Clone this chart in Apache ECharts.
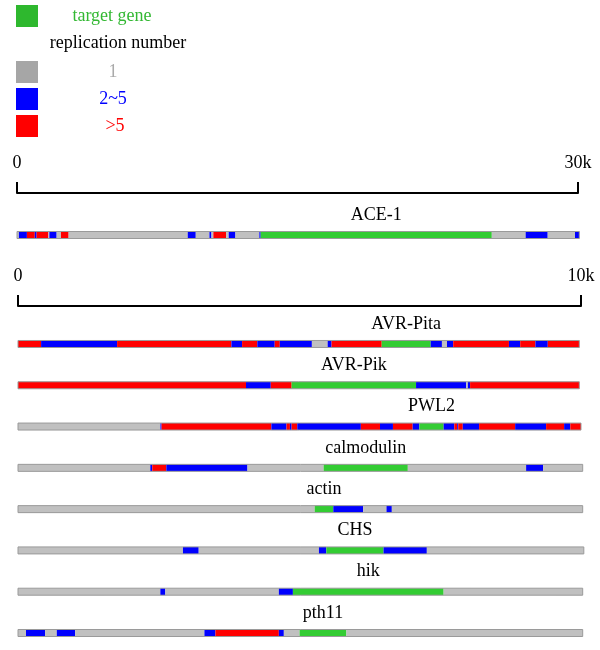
<!DOCTYPE html>
<html>
<head>
<meta charset="utf-8">
<script src="https://cdn.jsdelivr.net/npm/echarts@6/dist/echarts.min.js"></script>
<style>
html, body { margin: 0; padding: 0; background: #fff; }
#main { width: 600px; height: 650px; }
</style>
</head>
<body>
<div id="main"></div>
<script>
// segment colours: g = 1 copy, b = 2~5, r = >5, t = target gene
var colors = { g: '#c0c0c0', b: '#0000ff', r: '#ff0000', t: '#33cc33' };

var longMax = 30000;
var shortMax = 10000;
var longTicks = ['0', '30k'];
var shortTicks = ['0', '10k'];

var longNames = ['ACE-1'];
var ace1 = [[0,100,'g'],[100,530,'b'],[530,950,'r'],[950,1050,'b'],[1050,1680,'r'],[1680,1730,'g'],
  [1730,2120,'b'],[2120,2350,'g'],[2350,2760,'r'],[2760,9130,'g'],[9130,9560,'b'],[9560,10290,'g'],
  [10290,10400,'b'],[10400,10500,'g'],[10500,11180,'r'],[11180,11320,'g'],[11320,11680,'b'],
  [11680,12960,'g'],[12960,13030,'b'],[13030,25390,'t'],[25390,27200,'g'],[27200,28380,'b'],
  [28380,29840,'g'],[29840,30070,'b']];

var shortNames = ['AVR-Pita', 'AVR-Pik', 'PWL2', 'calmodulin', 'actin', 'CHS', 'hik', 'pth11'];
var avrPita = [[0,410,'r'],[410,1760,'b'],[1760,3790,'r'],[3790,3980,'b'],[3980,4250,'r'],[4250,4560,'b'],
  [4560,4650,'r'],[4650,5220,'b'],[5220,5500,'g'],[5500,5570,'b'],[5570,6460,'r'],[6460,7330,'t'],
  [7330,7530,'b'],[7530,7620,'g'],[7620,7730,'b'],[7730,8720,'r'],[8720,8920,'b'],[8920,9190,'r'],
  [9190,9410,'b'],[9410,9970,'r']];
var avrPik = [[0,4050,'r'],[4050,4490,'b'],[4490,4860,'r'],[4860,7070,'t'],[7070,7960,'b'],
  [7960,7990,'g'],[7990,8030,'b'],[8030,9970,'r']];
var pwl2 = [[0,2530,'g'],[2530,2550,'b'],[2550,4500,'r'],[4500,4770,'b'],[4770,4830,'r'],[4830,4860,'b'],
  [4860,4960,'r'],[4960,6090,'b'],[6090,6430,'r'],[6430,6660,'b'],[6660,7010,'r'],[7010,7130,'b'],
  [7130,7560,'t'],[7560,7750,'b'],[7750,7800,'r'],[7800,7820,'b'],[7820,7900,'r'],[7900,8190,'b'],
  [8190,8830,'r'],[8830,9380,'b'],[9380,9700,'r'],[9700,9810,'b'],[9810,10000,'r']];
var calmodulin = [[0,2350,'g'],[2350,2385,'b'],[2385,2634,'r'],[2634,4076,'b'],[4076,5429,'g'],
  [5429,6924,'t'],[6924,9025,'g'],[9025,9327,'b'],[9327,10030,'g']];
var actin = [[0,5270,'g'],[5270,5600,'t'],[5600,6130,'b'],[6130,6545,'g'],[6545,6640,'b'],[6640,10030,'g']];
var chs = [[0,2930,'g'],[2930,3210,'b'],[3210,5345,'g'],[5345,5477,'b'],[5477,6492,'t'],[6492,7262,'b'],
  [7262,10050,'g']];
var hik = [[0,2528,'g'],[2528,2617,'b'],[2617,4633,'g'],[4633,4883,'b'],[4883,7560,'t'],[7560,10030,'g']];
var pth11 = [[0,142,'g'],[142,481,'b'],[481,689,'g'],[689,1015,'b'],[1015,3311,'g'],[3311,3507,'b'],
  [3507,4633,'r'],[4633,4722,'b'],[4722,5002,'g'],[5002,5833,'t'],[5833,10030,'g']];
var shortTracks = [avrPita, avrPik, pwl2, calmodulin, actin, chs, hik, pth11];
var longTracks = [ace1];

var serif = 'Liberation Serif';

function segData(tracks) {
  var out = [];
  tracks.forEach(function (segs, i) {
    segs.forEach(function (s) {
      out.push({ value: [s[0], s[1], i], itemStyle: { color: colors[s[2]] } });
    });
  });
  return out;
}
function outlineData(tracks) {
  return tracks.map(function (segs, i) {
    return [segs[0][0], segs[segs.length - 1][1], i];
  });
}
function labelData(tracks) {
  return tracks.map(function (segs, i) {
    var t = segs.filter(function (s) { return s[2] === 't'; })[0];
    return [(t[0] + t[1]) / 2, i];
  });
}

function segItem(params, api) {
  var a = api.coord([api.value(0), api.value(2)]);
  var b = api.coord([api.value(1), api.value(2)]);
  return { type: 'rect', shape: { x: a[0], y: a[1] - 3.5, width: b[0] - a[0], height: 7 },
    style: { fill: api.visual('color') } };
}
function outlineItem(params, api) {
  var a = api.coord([api.value(0), api.value(2)]);
  var b = api.coord([api.value(1), api.value(2)]);
  return { type: 'rect', shape: { x: a[0], y: a[1] - 3.5, width: b[0] - a[0], height: 7 },
    style: { fill: 'none', stroke: '#9a9a9a', lineWidth: 1 } };
}
function labelRenderer(names) {
  return function (params, api) {
    var p = api.coord([api.value(0), api.value(1)]);
    return { type: 'text', x: p[0], y: p[1] - 20,
      style: { text: names[params.dataIndex], fill: '#000', font: '18px "' + serif + '"',
        align: 'center', verticalAlign: 'middle' } };
  };
}

function scaleAxis(grid, max, ticks) {
  return {
    gridIndex: grid, type: 'value', position: 'top', min: 0, max: max, interval: max,
    axisLine: { onZero: false, lineStyle: { color: '#000', width: 2 } },
    axisTick: { length: 11, lineStyle: { color: '#000', width: 2 } },
    axisLabel: { margin: 21, color: '#000', fontFamily: serif, fontSize: 18,
      formatter: function (v) { return v === 0 ? ticks[0] : ticks[1]; } },
    splitLine: { show: false }
  };
}

// legend drawn as plain shapes and text
var legendRows = [
  { box: '#2eb82e', text: 'target gene', color: '#33b833', x: 112, y: 16 },
  { box: null, text: 'replication number', color: '#000', x: 118, y: 43 },
  { box: '#a6a6a6', text: '1', color: '#aaaaaa', x: 113, y: 72 },
  { box: '#0000ff', text: '2~5', color: '#0000ff', x: 113, y: 99 },
  { box: '#ff0000', text: '>5', color: '#ff0000', x: 115, y: 126 }
];
var graphic = [];
legendRows.forEach(function (r) {
  if (r.box) {
    graphic.push({ type: 'rect', left: 16, top: r.y - 11, shape: { width: 22, height: 22 },
      style: { fill: r.box } });
  }
  graphic.push({ type: 'text', x: r.x, y: r.y,
    style: { text: r.text, fill: r.color, font: '18px "' + serif + '"', align: 'center', verticalAlign: 'middle' } });
});

var myChart = echarts.init(document.getElementById('main'));
var option = {
  animation: false,
  textStyle: { fontFamily: serif },
  graphic: graphic,
  grid: [
    { left: 17, right: 22, top: 193, height: 42 },
    { left: 18, right: 19, top: 306, height: 327 }
  ],
  xAxis: [
    scaleAxis(0, longMax, longTicks),
    scaleAxis(1, shortMax, shortTicks)
  ],
  // the scale line sits on the grid top; tracks start below it
  yAxis: [
    { gridIndex: 0, type: 'value', min: -1, max: 0, inverse: true, show: false },
    { gridIndex: 1, type: 'value', min: -0.92, max: 7, inverse: true, show: false }
  ],
  series: [
    { type: 'custom', xAxisIndex: 0, yAxisIndex: 0, renderItem: segItem, data: segData(longTracks) },
    { type: 'custom', xAxisIndex: 0, yAxisIndex: 0, renderItem: outlineItem, data: outlineData(longTracks) },
    { type: 'custom', xAxisIndex: 0, yAxisIndex: 0, renderItem: labelRenderer(longNames), data: labelData(longTracks) },
    { type: 'custom', xAxisIndex: 1, yAxisIndex: 1, renderItem: segItem, data: segData(shortTracks) },
    { type: 'custom', xAxisIndex: 1, yAxisIndex: 1, renderItem: outlineItem, data: outlineData(shortTracks) },
    { type: 'custom', xAxisIndex: 1, yAxisIndex: 1, renderItem: labelRenderer(shortNames), data: labelData(shortTracks) }
  ]
};
myChart.setOption(option);
</script>
</body>
</html>
